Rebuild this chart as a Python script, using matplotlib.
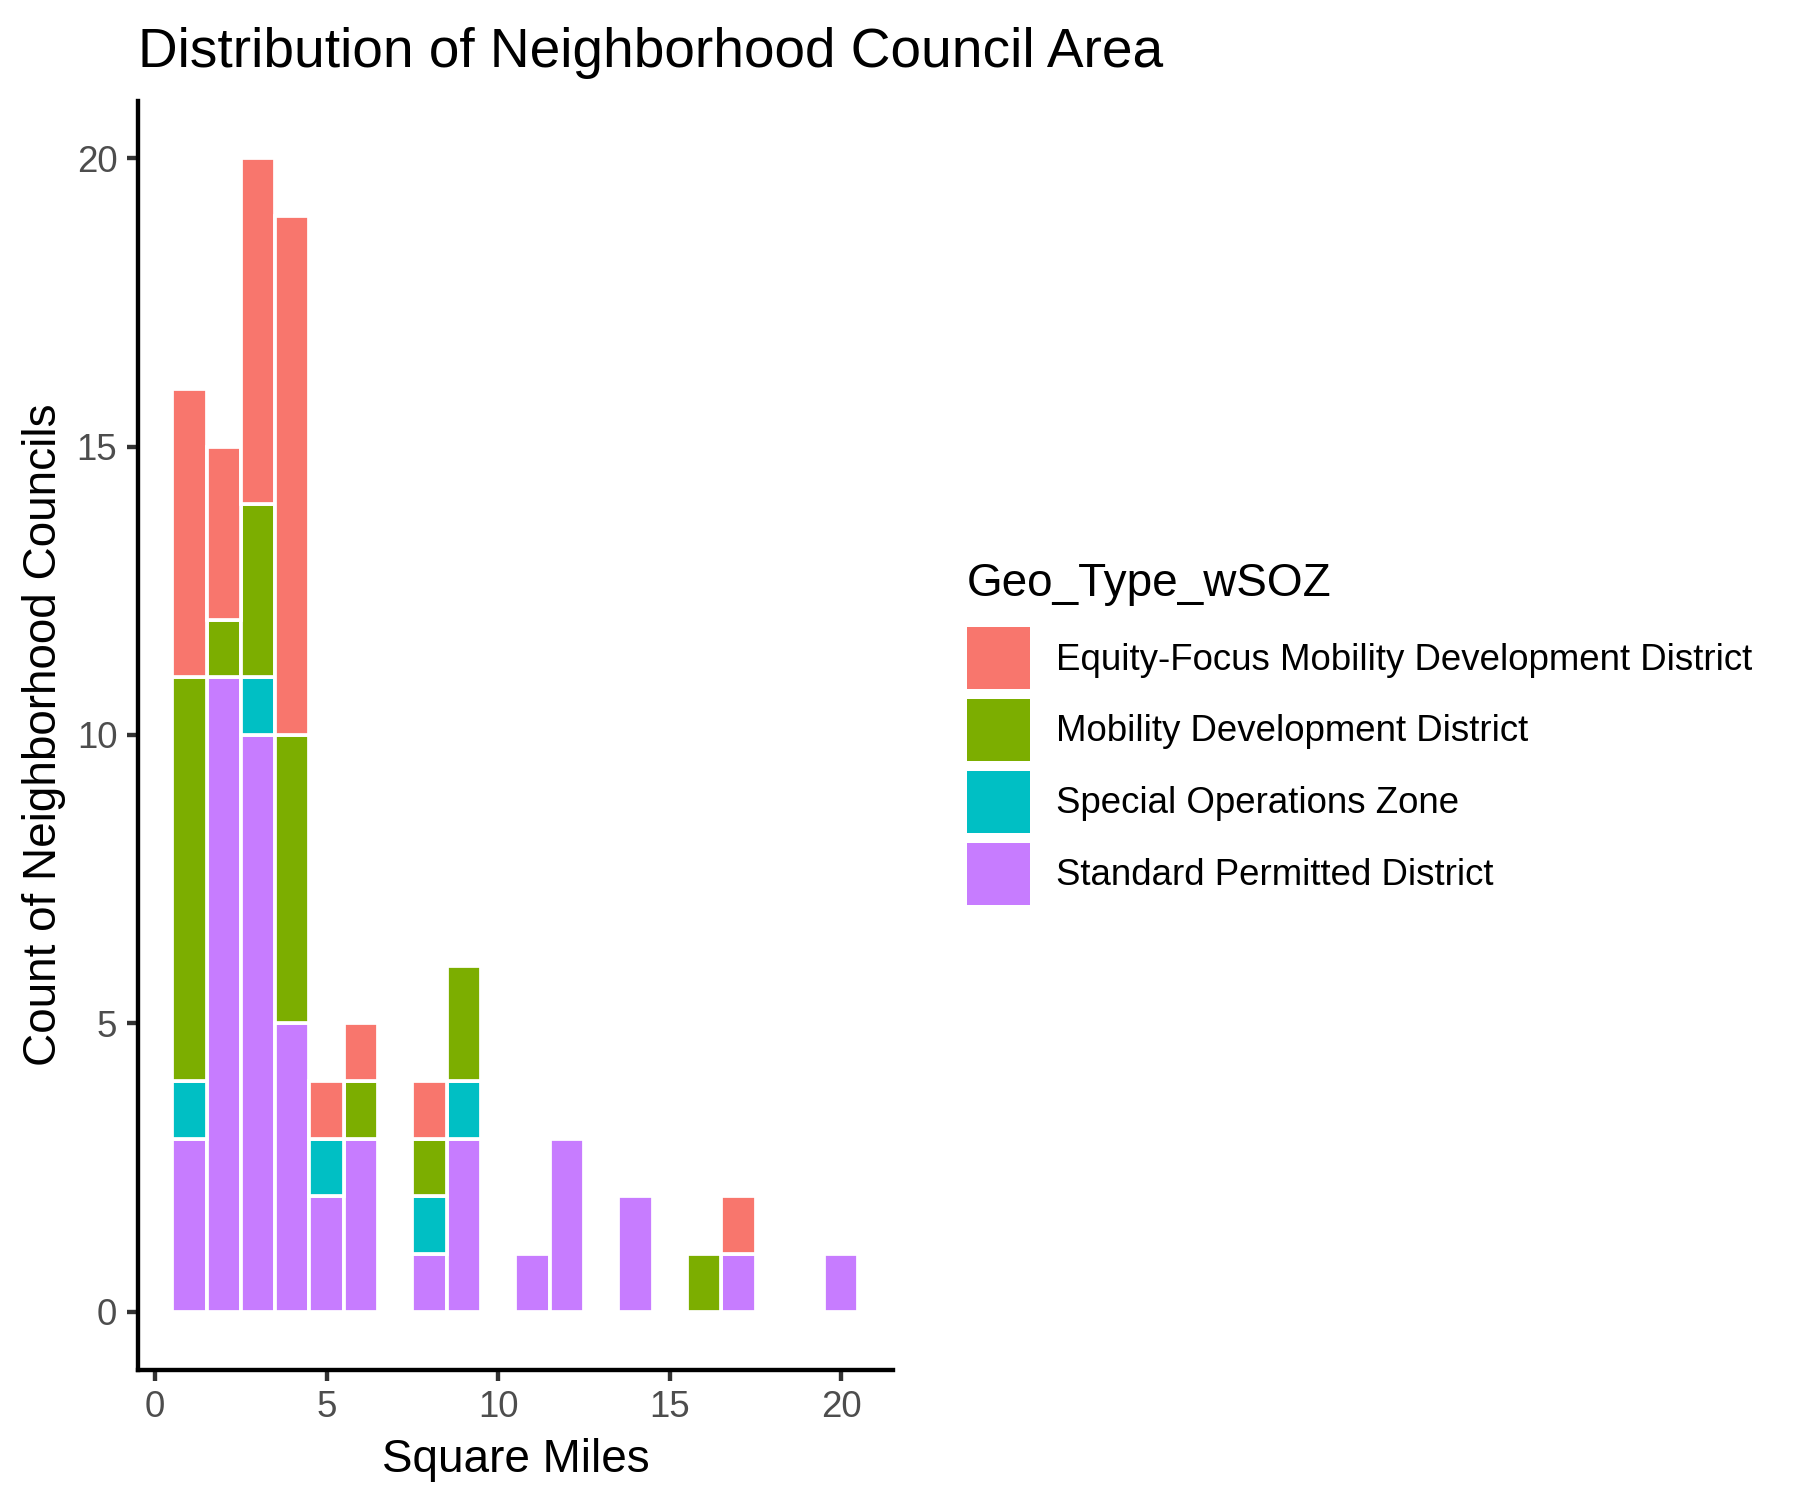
import matplotlib
matplotlib.use("Agg")
import matplotlib.pyplot as plt
import numpy as np
from matplotlib.patches import Patch

plt.rcParams['font.family'] = ['Liberation Sans', 'DejaVu Sans']

bin_centers = [1, 2, 3, 4, 5, 6, 7, 8, 9, 10, 11, 12, 13, 14, 15, 16, 17, 18, 19, 20]
categories = ["Equity-Focus Mobility Development District",
              "Mobility Development District",
              "Special Operations Zone",
              "Standard Permitted District"]
colors = ["#F8766D", "#7CAE00", "#00BFC4", "#C77CFF"]

standard = [3, 11, 10, 5, 2, 3, 0, 1, 3, 0, 1, 3, 0, 2, 0, 0, 1, 0, 0, 1]
special  = [1, 0, 1, 0, 1, 0, 0, 1, 1, 0, 0, 0, 0, 0, 0, 0, 0, 0, 0, 0]
mobility = [7, 1, 3, 5, 0, 1, 0, 1, 2, 0, 0, 0, 0, 0, 0, 1, 0, 0, 0, 0]
equity   = [5, 3, 6, 9, 1, 1, 0, 1, 0, 0, 0, 0, 0, 0, 0, 0, 1, 0, 0, 0]

fig = plt.figure(figsize=(6, 5), dpi=300)
ax = fig.add_axes([0.0766, 0.087, 0.4194, 0.846])

stack_order = [(standard, 3), (special, 2), (mobility, 1), (equity, 0)]
bottom = np.zeros(len(bin_centers))
for vals, ci in stack_order:
    v = np.array(vals, dtype=float)
    mask = v > 0
    ax.bar(np.array(bin_centers)[mask], v[mask], width=1.0, bottom=bottom[mask],
           color=colors[ci], edgecolor="white", linewidth=0.9)
    bottom += v

ax.set_xlim(-0.5, 21.5)
ax.set_ylim(-1, 21)
ax.set_xticks([0, 5, 10, 15, 20])
ax.set_yticks([0, 5, 10, 15, 20])
for s in ["top", "right"]:
    ax.spines[s].set_visible(False)
for s in ["left", "bottom"]:
    ax.spines[s].set_linewidth(1.05)
    ax.spines[s].set_color("black")
ax.tick_params(axis="both", length=2.75, width=1.05, color="#333333",
               labelsize=8.8, labelcolor="#4D4D4D", pad=2.2)

ax.set_xlabel("Square Miles", fontsize=11, color="black", labelpad=3)
ax.set_ylabel("Count of Neighborhood Councils", fontsize=11, color="black", labelpad=2.5)
ax.set_title("Distribution of Neighborhood Council Area", fontsize=13.2,
             loc="left", pad=8, color="black")

leg_handles = [Patch(facecolor=c, edgecolor="none") for c in colors]
leg = fig.legend(leg_handles, categories, loc="center left",
                 bbox_to_anchor=(0.537, 0.511), frameon=False,
                 title="Geo_Type_wSOZ", title_fontsize=11, fontsize=8.8,
                 handlelength=1.73, handleheight=2.22, labelspacing=0.27,
                 handletextpad=0.72, borderpad=0, borderaxespad=0)
leg._legend_box.align = "left"
leg._legend_box.sep = 5.0

fig.savefig("out.png", dpi=300)
